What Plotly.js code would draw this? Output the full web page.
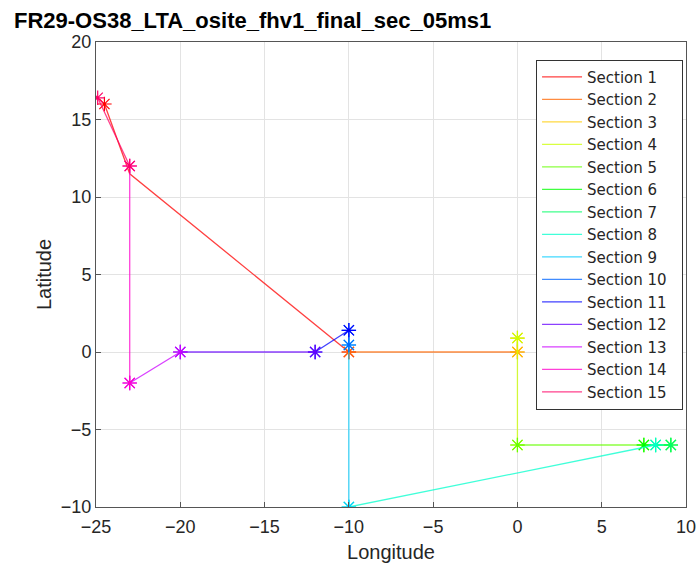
<!DOCTYPE html>
<html>
<head>
<meta charset="utf-8">
<script src="https://cdn.plot.ly/plotly-3.0.1.min.js"></script>
<style>
  html, body { margin: 0; padding: 0; background: #fff; }
  #chart { width: 700px; height: 565px; }
</style>
</head>
<body>
<div id="chart"></div>
<script>
// Track sections: longitude / latitude of each section's vertices
const sectionNames = [
  "Section 1", "Section 2", "Section 3", "Section 4", "Section 5",
  "Section 6", "Section 7", "Section 8", "Section 9", "Section 10",
  "Section 11", "Section 12", "Section 13", "Section 14", "Section 15"
];
const sectionLon = [
  [-24.5, -23, -10],
  [-10, 0],
  [0, 0],
  [0, 0],
  [0, 7.5],
  [7.5, 9.1],
  [9.1, 8.2],
  [8.2, -10],
  [-10, -10],
  [-10, -10],
  [-10, -12],
  [-12, -20],
  [-20, -23],
  [-23, -23],
  [-23, -24.9]
];
const sectionLat = [
  [16, 11.5, 0],
  [0, 0],
  [0, 0.9],
  [0.9, -6],
  [-6, -6],
  [-6, -6],
  [-6, -6],
  [-6, -10],
  [-10, 0.45],
  [0.45, 1.4],
  [1.4, 0],
  [0, 0],
  [0, -2],
  [-2, 12],
  [12, 16.4]
];
const xTicks = [-25, -20, -15, -10, -5, 0, 5, 10];
const yTicks = [-10, -5, 0, 5, 10, 15, 20];

// hsv colormap, one hue per section
function hsvColor(i, n, alpha) {
  const h = i / n * 6;
  const k = Math.floor(h) % 6;
  const f = h - Math.floor(h);
  const q = 1 - f, t = f;
  const rgb = [[1, t, 0], [q, 1, 0], [0, 1, t], [0, q, 1], [t, 0, 1], [1, 0, q]][k];
  const c = rgb.map(v => Math.round(v * 255));
  return `rgba(${c[0]},${c[1]},${c[2]},${alpha})`;
}

const n = sectionNames.length;
const lineTraces = [];
const markerTraces = [];
sectionNames.forEach((name, i) => {
  const xs = sectionLon[i];
  const ys = sectionLat[i];
  const last = xs.length - 1;
  // section path (trailing spaces give the legend some right padding)
  lineTraces.push({
    type: "scatter",
    mode: "lines",
    name: name + "\u00a0\u00a0",
    x: xs,
    y: ys,
    line: { color: hsvColor(i, n, 0.75), width: 1.3 }
  });
  // start / end markers of the section
  markerTraces.push({
    type: "scatter",
    mode: "markers",
    name: name,
    showlegend: false,
    x: [xs[0], xs[last]],
    y: [ys[0], ys[last]],
    marker: {
      symbol: "asterisk-open",
      size: 12,
      color: hsvColor(i, n, 1),
      line: { color: hsvColor(i, n, 1), width: 1.2 }
    }
  });
});
// interleave so each section's markers sit on top of its own line
const traces = [];
lineTraces.forEach((t, i) => { traces.push(t, markerTraces[i]); });

const sans = "Liberation Sans, Arial, Helvetica, sans-serif";
const axisCommon = {
  showgrid: true,
  gridcolor: "#e3e3e3",
  gridwidth: 1,
  zeroline: false,
  showline: true,
  linecolor: "#555",
  linewidth: 1,
  mirror: true,
  ticks: "inside",
  ticklen: 5,
  tickcolor: "#555",
  tickfont: { family: sans, size: 18, color: "#262626" }
};

const layout = {
  width: 700,
  height: 565,
  margin: { l: 96, r: 14, t: 42, b: 58 },
  paper_bgcolor: "#fff",
  plot_bgcolor: "#fff",
  title: {
    text: "<b>FR29-OS38_LTA_osite_fhv1_final_sec_05ms1</b>",
    font: { family: sans, size: 22, color: "#000" },
    x: 14 / 700, xanchor: "left", xref: "container",
    y: 1 - 20 / 565, yref: "container", yanchor: "middle"
  },
  xaxis: Object.assign({}, axisCommon, {
    range: [-25, 10],
    tickvals: xTicks,
    ticklabelstandoff: 3,
    title: { text: "Longitude", font: { family: sans, size: 20, color: "#262626" }, standoff: 9 }
  }),
  yaxis: Object.assign({}, axisCommon, {
    range: [-10, 20],
    tickvals: yTicks,
    title: { text: "Latitude", font: { family: sans, size: 20, color: "#262626" }, standoff: 3 }
  }),
  legend: {
    x: 0.995, xanchor: "right",
    y: 0.962, yanchor: "top",
    bgcolor: "#fff",
    bordercolor: "#333",
    borderwidth: 1,
    itemwidth: 40,
    tracegroupgap: 0,
    font: { family: "DejaVu Sans, sans-serif", size: 15, color: "#262626" }
  },
  showlegend: true
};

Plotly.newPlot("chart", traces, layout, { displayModeBar: false, staticPlot: true });
</script>
</body>
</html>
